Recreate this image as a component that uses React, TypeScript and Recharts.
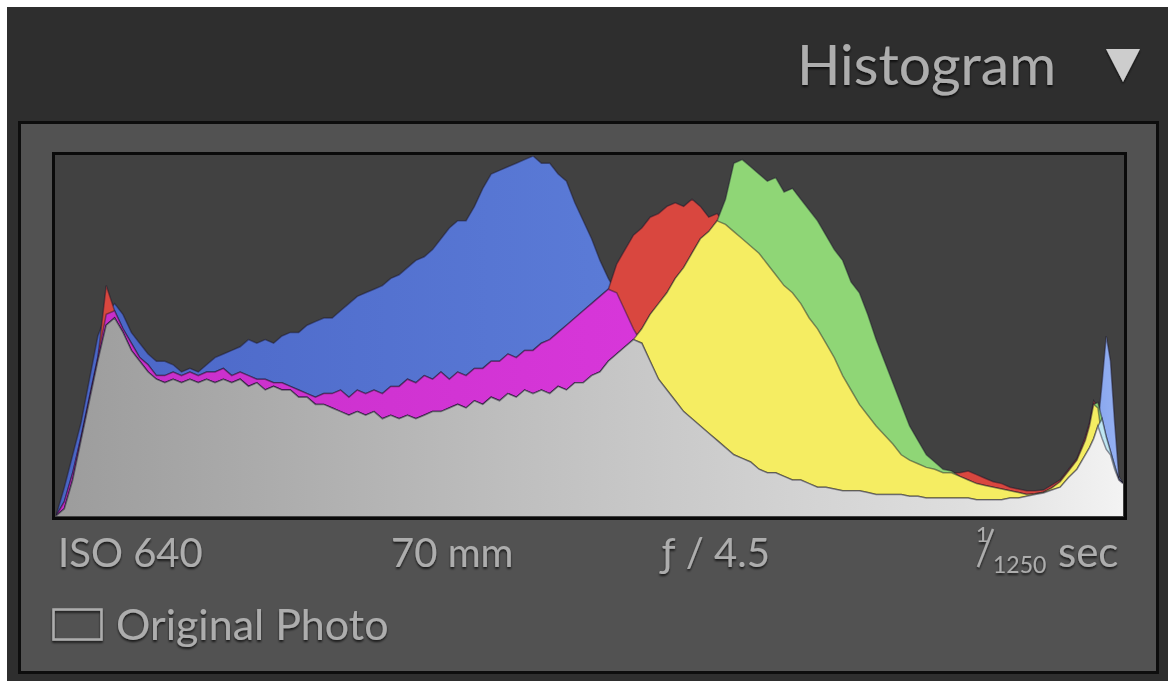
import { Area, AreaChart, XAxis, YAxis } from "recharts";

// histogram levels (0-255) and channel heights in % of plot height
const levels = [
  0, 2, 4, 6, 8, 10, 12, 14, 16, 18, 20, 22, 24, 26, 28, 30, 32, 34, 36, 38,
  40, 42, 44, 46, 48, 50, 52, 54, 56, 58, 60, 62, 64, 66, 68, 70, 72, 74, 76, 78,
  80, 82, 84, 86, 88, 90, 92, 94, 96, 98, 100, 102, 104, 106, 108, 110, 112, 114, 116, 118,
  120, 122, 124, 126, 128, 130, 132, 134, 136, 138, 140, 142, 144, 146, 148, 150, 152, 154, 156, 158,
  160, 162, 164, 166, 168, 170, 172, 174, 176, 178, 180, 182, 184, 186, 188, 190, 192, 194, 196, 198,
  200, 202, 204, 206, 208, 210, 212, 214, 216, 218, 220, 222, 224, 226, 228, 230, 232, 234, 236, 238,
  240, 242, 244, 246, 247, 248, 249, 250, 251, 252, 253, 254, 255,
];

const blue = [
  0, 8, 17, 26, 38, 50, 56, 59, 56, 51, 48, 45, 43, 43, 42, 40, 41, 40, 42, 44,
  45, 46, 47, 49, 48, 49, 48, 50, 51, 51, 53, 54, 55, 55, 57, 59, 61, 62, 63, 64,
  66, 67, 69, 71, 72, 74, 77, 80, 82, 82, 86, 91, 95, 96, 97, 98, 99, 100, 98, 98,
  95, 93, 87, 82, 77, 71, 66, 62, 57, 52, 48, 43, 38, 35, 32, 29, 27, 25, 23, 21,
  19, 17, 16, 15, 13, 12, 12, 11, 10, 10, 9, 8, 8, 7.5, 7, 7, 7, 6.5, 6, 6,
  6, 6, 5.5, 5.5, 5, 5, 5, 5, 5, 5, 4.5, 4.5, 4.5, 4.5, 5, 5, 5.5, 6, 6.4, 7.2,
  8, 10.7, 13, 17, 19, 21.5, 25, 37, 50, 43, 26, 11, 9,
];

const red = [
  0, 4, 12, 22, 33, 44, 64, 57, 52, 48, 44, 42, 39, 39, 40, 39, 40, 39, 40, 40,
  41, 39, 40, 39, 38, 38, 37, 37, 36, 35, 34, 33, 34, 34, 35, 33, 35, 34, 35, 34,
  36, 36, 38, 37, 39, 38, 40, 38, 40, 39, 41, 41, 43, 43, 45, 44, 46, 46, 48, 49,
  51, 53, 55, 57, 59, 61, 63, 70, 74, 78, 80, 83, 84, 86, 87, 86, 88, 86, 83, 84,
  81, 79, 77, 75, 73, 70, 67, 64, 62, 59, 55, 52, 48, 44, 39, 35, 31, 28, 25, 22.5,
  20, 17, 15.5, 14.5, 13.5, 13, 12, 12, 12, 12.5, 11.5, 10.5, 9.5, 9, 8, 7.5, 7, 7, 7.2, 8.6,
  10, 13, 16, 22, 26, 32, 30, 21.5, 18.5, 17, 13, 10, 9,
];

const green = [
  0, 2, 10, 21, 32, 43, 53, 55, 51, 46, 43, 40, 38, 37, 38, 37, 38, 37, 38, 37,
  38, 37, 38, 36, 37, 35, 36, 35, 35, 33, 33, 31, 31, 30, 29, 28, 29, 28, 29, 27,
  28, 27, 28, 27, 28, 29, 29, 30, 31, 30, 32, 31, 33, 32, 34, 33, 35, 34, 35, 34,
  36, 35, 37, 37, 39, 40, 43, 45, 47, 49, 52, 56, 59, 62, 66, 69, 73, 77, 79, 82,
  88, 98, 99, 97, 95, 93, 94, 90, 91, 88, 85, 82, 78, 74, 71, 65, 62, 56, 49, 43,
  37, 31, 25, 21, 17, 15, 13, 12.5, 11, 10, 9, 8.5, 8, 7.5, 7, 6.5, 6, 6.2, 6.6, 7.8,
  9.5, 12.5, 15.5, 21, 25, 31, 31.5, 27, 22, 18, 14, 10, 9,
];

const data = levels.map((level, i) => {
  const r = red[i];
  const g = green[i];
  const b = blue[i];
  return {
    level,
    r,
    g,
    b,
    rb: Math.min(r, b),
    rg: Math.min(r, g),
    gb: Math.min(g, b),
    rgb: Math.min(r, g, b),
  };
});

const edge = "rgba(25,20,40,0.45)";
const textColor = "#adadad";
const font = "Lato, 'Open Sans', sans-serif";

const layers = [
  { key: "b", fill: "url(#gBlue)" },
  { key: "r", fill: "#d9473f" },
  { key: "g", fill: "#8fd676" },
  { key: "rb", fill: "url(#gMagenta)" },
  { key: "rg", fill: "#f5ed62" },
  { key: "gb", fill: "#bfe6f2" },
  { key: "rgb", fill: "url(#gGray)" },
];

export default function App() {
  return (
    <div
      style={{
        position: "absolute",
        left: 0,
        top: 0,
        width: 1168,
        height: 681,
        background: "#ffffff",
        overflow: "hidden",
      }}
    >
      <svg width={1168} height={681} style={{ position: "absolute", left: 0, top: 0 }}>
        <defs>
          <filter id="shadow" x="-5%" y="-20%" width="110%" height="150%">
            <feDropShadow dx="0" dy="2" stdDeviation="1" floodColor="#000" floodOpacity="0.7" />
          </filter>
        </defs>
        <rect x={7} y={7} width={1161} height={674} fill="#2e2e2e" />
        <rect x={19.5} y={122.5} width={1138} height={550} fill="#525252" stroke="#0d0d0d" strokeWidth={3} />
        <rect x={53.5} y={153.5} width={1072} height={365} fill="#414141" stroke="#0a0a0a" strokeWidth={3} />

        <g fill={textColor} fontFamily={font} filter="url(#shadow)">
          <text x={797} y={85} fontSize={57}>Histogram</text>
          <polygon points="1106,49 1140,49 1123,82" fill="#cdcdcd" />
          <text x={58} y={567} fontSize={40}>ISO 640</text>
          <text x={391} y={567} fontSize={40}>70 mm</text>
          <text x={662} y={567} fontSize={40}>ƒ / 4.5</text>
          <text x={976} y={542} fontSize={22}>1</text>
          <line x1={993} y1={529} x2={978} y2={567} stroke={textColor} strokeWidth={2.5} />
          <text x={993} y={573} fontSize={23}>1250</text>
          <text x={1058} y={567} fontSize={42}>sec</text>
          <rect x={53.5} y={609.5} width={48} height={30} fill="none" stroke={textColor} strokeWidth={2.5} />
          <text x={116} y={640} fontSize={43}>Original Photo</text>
        </g>
      </svg>

      <div style={{ position: "absolute", left: 56, top: 156, width: 1067, height: 360 }}>
        <AreaChart width={1067} height={360} data={data} margin={{ top: 0, right: 0, bottom: 0, left: 0 }}>
          <defs>
            <linearGradient id="gBlue" x1="0" y1="0" x2="1" y2="0">
              <stop offset="0%" stopColor="#4a65c6" />
              <stop offset="50%" stopColor="#5a7ad6" />
              <stop offset="92%" stopColor="#6a8ce2" />
              <stop offset="100%" stopColor="#97b3f4" />
            </linearGradient>
            <linearGradient id="gMagenta" x1="0" y1="0" x2="1" y2="0">
              <stop offset="0%" stopColor="#c62ec8" />
              <stop offset="100%" stopColor="#e63ee8" />
            </linearGradient>
            <linearGradient id="gGray" x1="0" y1="0" x2="1" y2="0">
              <stop offset="0%" stopColor="#9c9c9c" />
              <stop offset="50%" stopColor="#c4c4c4" />
              <stop offset="85%" stopColor="#dedede" />
              <stop offset="100%" stopColor="#f3f3f3" />
            </linearGradient>
          </defs>
          <XAxis dataKey="level" type="number" domain={[0, 255]} hide />
          <YAxis domain={[0, 100]} hide />
          {layers.map((l) => (
            <Area
              key={l.key}
              dataKey={l.key}
              type="linear"
              fill={l.fill}
              fillOpacity={1}
              stroke={edge}
              strokeWidth={1.5}
              dot={false}
              activeDot={false}
              isAnimationActive={false}
            />
          ))}
        </AreaChart>
      </div>
    </div>
  );
}
